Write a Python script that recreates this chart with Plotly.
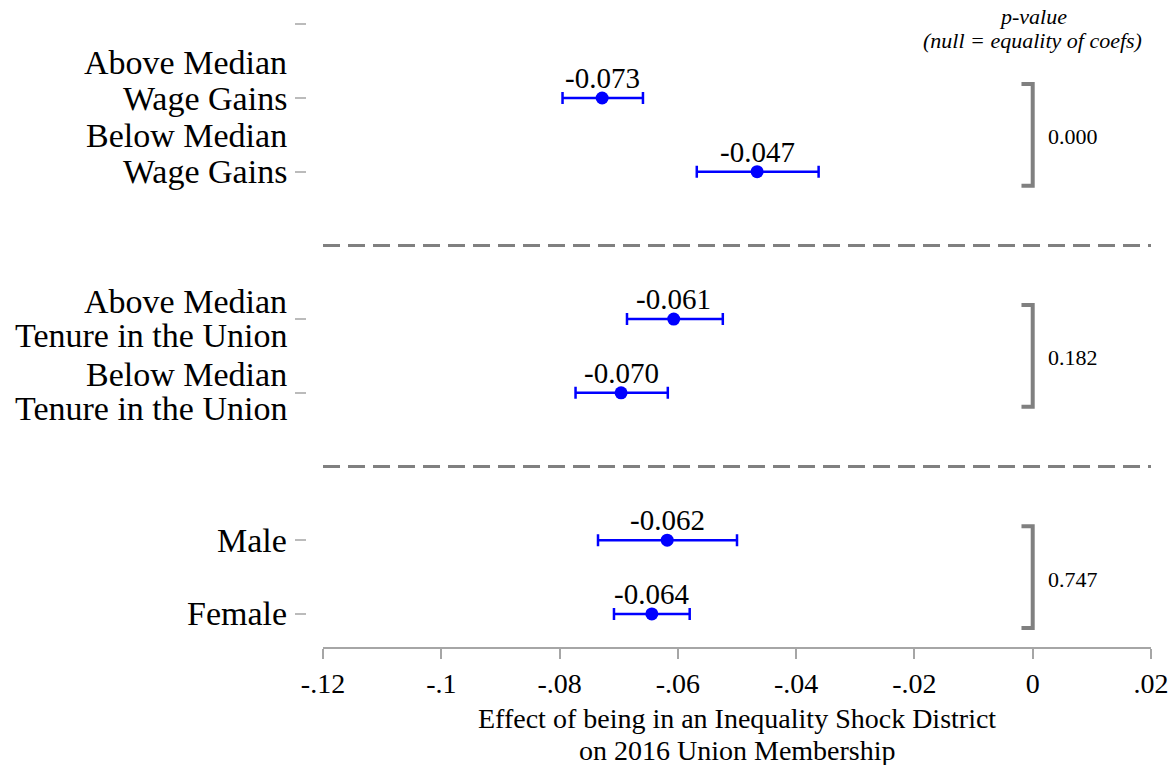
import plotly.graph_objects as go

# ---------------- data ----------------
label_lines = [
    ["Above Median", "Wage Gains"],
    ["Below Median", "Wage Gains"],
    ["Above Median", "Tenure in the Union"],
    ["Below Median", "Tenure in the Union"],
    ["Male"],
    ["Female"],
]
rows = [1, 2, 4, 5, 7, 8]
estimates = [-0.0728, -0.0466, -0.0607, -0.0696, -0.0618, -0.0644]
ci_low = [-0.0795, -0.0568, -0.0686, -0.0773, -0.0735, -0.0708]
ci_high = [-0.0659, -0.0362, -0.0524, -0.0617, -0.0500, -0.0580]
group_rows = [(1, 2), (4, 5), (7, 8)]
p_values = ["0.000", "0.182", "0.747"]
separators = [3, 6]
y_tick_rows = [0, 1, 2, 4, 5, 7, 8]
x_tick_vals = [-0.12, -0.10, -0.08, -0.06, -0.04, -0.02, 0.0, 0.02]
x_tick_text = ["-.12", "-.1", "-.08", "-.06", "-.04", "-.02", "0", ".02"]
x_title_lines = ["Effect of being in an Inequality Shock District", "on 2016 Union Membership"]
p_header_lines = ["p-value", "(null = equality of coefs)"]

# ---------------- style ----------------
FONT = "Liberation Serif"
BLUE = "#0000FF"
GREY = "#808080"
AXGREY = "#A6A6A6"
W, H = 1175, 765
ML, MR, MT, MB = 306, 24, 0, 118

fig = go.Figure()

# point estimates with CIs
fig.add_trace(go.Scatter(
    x=estimates, y=rows, mode="markers",
    marker=dict(color=BLUE, size=13, line=dict(width=0)),
    error_x=dict(type="data", symmetric=False,
                 array=[h - e for h, e in zip(ci_high, estimates)],
                 arrayminus=[e - l for e, l in zip(estimates, ci_low)],
                 color=BLUE, thickness=2.5, width=6),
    showlegend=False, hoverinfo="x+y",
))

# brackets for p-values
arm = 0.0019
pad = 0.19
bx, by = [], []
for (a, b) in group_rows:
    bx += [-arm, 0, 0, -arm, None]
    by += [a - pad, a - pad, b + pad, b + pad, None]
fig.add_trace(go.Scatter(x=bx, y=by, mode="lines",
                         line=dict(color=GREY, width=4),
                         showlegend=False, hoverinfo="skip"))

annotations = []
# value labels
for e, r in zip(estimates, rows):
    annotations.append(dict(x=e, y=r, xref="x", yref="y", text=f"{e:.3f}",
                            showarrow=False, yshift=20,
                            font=dict(family=FONT, size=29, color="black")))
# p-values
for (a, b), p in zip(group_rows, p_values):
    annotations.append(dict(x=0, y=(a + b) / 2, xref="x", yref="y", text=p,
                            showarrow=False, xanchor="left", xshift=13, yshift=-2,
                            font=dict(family=FONT, size=22, color="black")))
# y labels (one annotation per text line)
for lines, r in zip(label_lines, rows):
    if len(lines) == 1:
        shifts = [0]
    elif lines[1].startswith("Wage"):
        shifts = [36, 0]
    else:
        shifts = [18, -16]
    for t, s in zip(lines, shifts):
        annotations.append(dict(x=0, y=r, xref="paper", yref="y", text=t,
                                showarrow=False, xanchor="right", xshift=-17,
                                yshift=s,
                                font=dict(family=FONT, size=34, color="black")))
# p-value header
for i, t in enumerate(p_header_lines):
    annotations.append(dict(x=0, y=1, xref="x", yref="paper", text=f"<i>{t}</i>",
                            showarrow=False, yanchor="middle", yshift=-16 - 24 * i,
                            borderpad=0,
                            font=dict(family=FONT, size=22, color="black")))
# x-axis title
for i, t in enumerate(x_title_lines):
    annotations.append(dict(x=-0.05, y=0, xref="x", yref="paper", text=t,
                            showarrow=False, yanchor="middle", yshift=-71 - 32 * i,
                            borderpad=0,
                            font=dict(family=FONT, size=28, color="black")))

shapes = [dict(type="line", xref="x", yref="y", x0=-0.12, x1=0.02, y0=s, y1=s,
               line=dict(color=GREY, width=3, dash="17px,8px"), layer="below")
          for s in separators]

plot_w = W - ML - MR
fig.update_layout(
    width=W, height=H,
    margin=dict(l=ML, r=MR, t=MT, b=MB, pad=0),
    paper_bgcolor="white", plot_bgcolor="white",
    font=dict(family=FONT, color="black"),
    xaxis=dict(domain=[17 / plot_w, 1], range=[-0.12, 0.02],
               tickvals=x_tick_vals, ticktext=x_tick_text,
               showgrid=False, zeroline=False,
               showline=True, linecolor=AXGREY, linewidth=2,
               ticks="outside", ticklen=10, tickcolor=AXGREY, tickwidth=2,
               tickfont=dict(family=FONT, size=28, color="black")),
    yaxis=dict(range=[8.449, -0.33], anchor="free", position=0,
               tickvals=y_tick_rows, showticklabels=False,
               showgrid=False, zeroline=False, showline=False,
               ticks="outside", ticklen=11, tickcolor="#BBBBBB", tickwidth=1.5),
    annotations=annotations,
    shapes=shapes,
)

fig.write_html("out.html")
